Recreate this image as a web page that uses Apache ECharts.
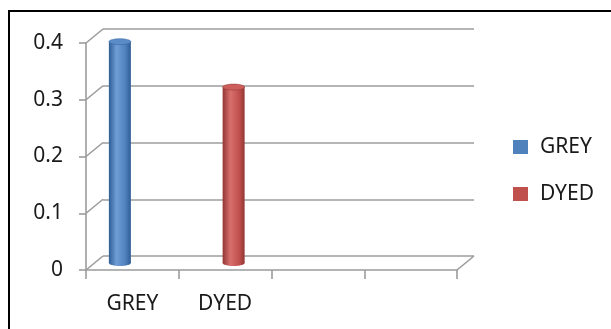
<!DOCTYPE html>
<html>
<head>
<meta charset="utf-8">
<script src="https://cdn.jsdelivr.net/npm/echarts@6/dist/echarts.min.js"></script>
<style>
  html, body { margin: 0; padding: 0; background: #fff; }
  #chart { width: 611px; height: 329px; }
</style>
</head>
<body>
<div id="chart"></div>
<script>
// Category slots on the floor (two labelled, two left empty)
const categories = ['GREY', 'DYED', '', ''];
// Series names shown in the legend
const seriesNames = ['GREY', 'DYED'];
// Values per category slot (null = no cylinder)
const greyValues = [0.39, null, null, null];
const dyedValues = [null, 0.31, null, null];
// Value axis range and step
const yMin = 0;
const yMax = 0.4;
const yStep = 0.1;
// Value-axis tick values (used for the side-wall gridlines)
const yTicks = [0, 0.1, 0.2, 0.3, 0.4];

const FONT = '"Noto Sans", "Open Sans", sans-serif';
const GRID_COLOR = '#9c9c9c';
// Depth of the 3D box (back wall offset from the front plane)
const DEPTH_X = 17, DEPTH_Y = -14;

const palette = {
  GREY: { base: '#4F81BD', dark: '#2f5d95', light: '#6f9dd6', cap: '#5c8cc8' },
  DYED: { base: '#C0504D', dark: '#933634', light: '#d8706d', cap: '#cc5f5c' }
};

function toPairs(values) {
  const out = [];
  values.forEach((v, i) => { if (v !== null && v !== undefined) out.push([i, v]); });
  return out;
}

function cylinderRenderer(name, offset) {
  const c = palette[name];
  return function (params, api) {
    const cat = api.value(0), v = api.value(1);
    const top = api.coord([cat, v]);
    const base = api.coord([cat, 0]);
    const w = 22, ry = 3;
    const cx = top[0] + offset;
    const grad = new echarts.graphic.LinearGradient(0, 0, 1, 0, [
      { offset: 0, color: c.dark },
      { offset: 0.35, color: c.light },
      { offset: 0.75, color: c.base },
      { offset: 1, color: c.dark }
    ]);
    return {
      type: 'group',
      children: [
        { type: 'ellipse', shape: { cx: cx, cy: base[1], rx: w / 2, ry: ry }, style: { fill: grad } },
        { type: 'rect', shape: { x: cx - w / 2, y: top[1], width: w, height: base[1] - top[1] }, style: { fill: grad } },
        { type: 'ellipse', shape: { cx: cx, cy: top[1], rx: w / 2, ry: ry }, style: { fill: c.cap, stroke: c.dark, lineWidth: 0.5 } }
      ]
    };
  };
}

// Diagonal side-wall lines at each value tick, plus the floor's right corner
function sideWallRenderer(params, api) {
  const v = api.value(1);
  const y = api.coord([0, v])[1];
  const cs = params.coordSys;
  const x0 = cs.x;
  const children = [{
    type: 'line',
    shape: { x1: x0, y1: y, x2: x0 + DEPTH_X, y2: y + DEPTH_Y },
    style: { stroke: GRID_COLOR, lineWidth: 1.6 }
  }];
  if (v === yMin) {
    const x1 = cs.x + cs.width;
    children.push({
      type: 'line',
      shape: { x1: x1, y1: y, x2: x1 + DEPTH_X, y2: y + DEPTH_Y },
      style: { stroke: GRID_COLOR, lineWidth: 1.6 }
    });
  }
  return { type: 'group', children: children };
}

const chart = echarts.init(document.getElementById('chart'), null, { renderer: 'canvas' });

const valueAxisBase = { type: 'value', min: yMin, max: yMax, interval: yStep };

chart.setOption({
  animation: false,
  backgroundColor: '#fff',
  color: [palette.GREY.base, palette.DYED.base],
  textStyle: { fontFamily: FONT },
  graphic: [{
    type: 'polyline',
    shape: { points: [[9, 329], [9, 11], [611, 11]] },
    style: { stroke: '#000', lineWidth: 2, fill: null }
  }],
  legend: {
    data: seriesNames,
    orient: 'vertical',
    left: 508,
    top: 131,
    itemWidth: 15,
    itemHeight: 14,
    itemGap: 25,
    icon: 'rect',
    textStyle: { fontFamily: FONT, fontSize: 21, color: '#1a1a1a', padding: [0, 0, 0, 7], lineHeight: 22 }
  },
  grid: [
    // front plane: axes, ticks, labels
    { left: 86, right: 154, top: 43, bottom: 59 },
    // back wall: horizontal gridlines
    { left: 86 + DEPTH_X, right: 154 - DEPTH_X, top: 43 + DEPTH_Y, bottom: 59 - DEPTH_Y },
    // mid-depth plane where the cylinders stand
    { left: 84, right: 156, top: 36, bottom: 66 }
  ],
  xAxis: [
    {
      gridIndex: 0, type: 'category', data: categories,
      axisLine: { lineStyle: { color: GRID_COLOR, width: 1.6 } },
      axisTick: { show: true, length: 9, lineStyle: { color: GRID_COLOR, width: 1.6 } },
      axisLabel: { fontFamily: FONT, fontSize: 21, color: '#1a1a1a', margin: 24 },
      splitLine: { show: false }
    },
    { gridIndex: 1, type: 'category', data: categories, show: false },
    { gridIndex: 2, type: 'category', data: categories, show: false }
  ],
  yAxis: [
    Object.assign({}, valueAxisBase, {
      gridIndex: 0,
      axisLine: { show: true, lineStyle: { color: GRID_COLOR, width: 1.6 } },
      axisTick: { show: true, length: 7, lineStyle: { color: GRID_COLOR, width: 1.6 } },
      axisLabel: { fontFamily: FONT, fontSize: 21, color: '#1a1a1a', margin: 23, formatter: v => String(+v.toFixed(1)) },
      splitLine: { show: false }
    }),
    Object.assign({}, valueAxisBase, {
      gridIndex: 1,
      axisLine: { show: false }, axisTick: { show: false }, axisLabel: { show: false },
      splitLine: { show: true, lineStyle: { color: GRID_COLOR, width: 1.6 } }
    }),
    Object.assign({}, valueAxisBase, {
      gridIndex: 2, show: false, splitLine: { show: false }
    })
  ],
  series: [
    {
      name: 'wall', type: 'custom', xAxisIndex: 0, yAxisIndex: 0, z: 1,
      silent: true, renderItem: sideWallRenderer,
      data: yTicks.map(v => [0, v])
    },
    {
      name: seriesNames[0], type: 'custom', xAxisIndex: 2, yAxisIndex: 2, z: 5,
      itemStyle: { color: palette.GREY.base },
      renderItem: cylinderRenderer('GREY', -10.5),
      data: toPairs(greyValues)
    },
    {
      name: seriesNames[1], type: 'custom', xAxisIndex: 2, yAxisIndex: 2, z: 5,
      itemStyle: { color: palette.DYED.base },
      renderItem: cylinderRenderer('DYED', 10.5),
      data: toPairs(dyedValues)
    }
  ]
});
</script>
</body>
</html>
